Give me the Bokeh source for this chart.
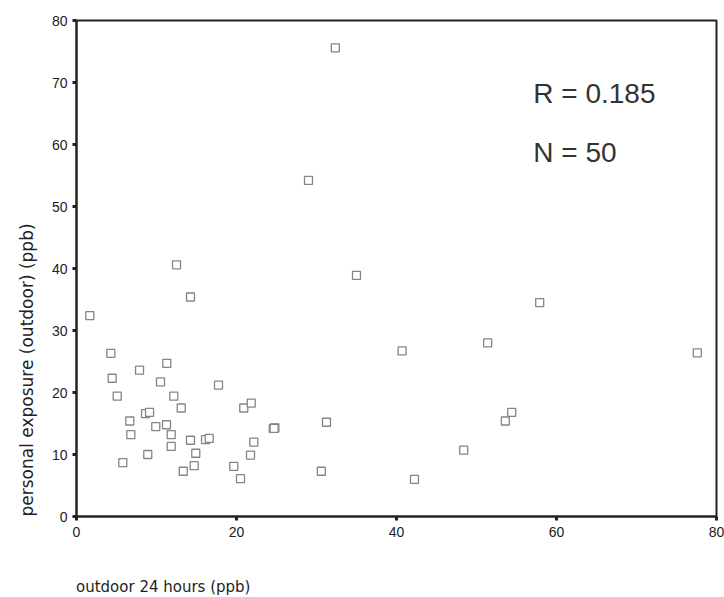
from bokeh.plotting import figure
from bokeh.models import Range1d, Label, FixedTicker, ColumnDataSource, Title, Div
from bokeh.layouts import column
from bokeh.embed import file_html
from bokeh.resources import INLINE

# ---- data ----
outdoor_24h = [1.66, 4.29, 4.46, 5.09, 5.79, 6.66, 6.79, 7.88, 8.63, 9.13,
               8.91, 9.91, 10.5, 11.29, 11.25, 11.84, 11.84, 12.16, 12.5, 13.09,
               13.34, 14.25, 14.25, 14.71, 14.91, 16.13, 16.59, 17.75, 19.66, 20.5,
               20.91, 21.84, 21.75, 22.16, 24.6, 24.8, 29.0, 30.6, 31.25, 32.35,
               35.0, 40.7, 42.25, 48.4, 51.4, 53.6, 54.4, 57.9, 77.6, 24.7]
personal_outdoor = [32.4, 26.3, 22.3, 19.4, 8.7, 15.4, 13.2, 23.6, 16.6, 16.8,
                    10.0, 14.5, 21.7, 24.7, 14.8, 13.2, 11.3, 19.4, 40.6, 17.5,
                    7.3, 35.4, 12.3, 8.2, 10.2, 12.4, 12.6, 21.2, 8.1, 6.1,
                    17.5, 18.3, 9.9, 12.0, 14.2, 14.3, 54.2, 7.3, 15.2, 75.6,
                    38.9, 26.7, 6.0, 10.7, 28.0, 15.4, 16.8, 34.5, 26.4, 14.2]
x_ticks = [0, 20, 40, 60, 80]
y_ticks = [0, 10, 20, 30, 40, 50, 60, 70, 80]
x_title = "outdoor 24 hours (ppb)"
y_title = "personal exposure (outdoor) (ppb)"
r_text = "R = 0.185"
n_text = "N = 50"

src = ColumnDataSource(dict(x=outdoor_24h, y=personal_outdoor))

p = figure(width=724, height=548, output_backend="svg", toolbar_location=None,
           x_range=Range1d(0, 80), y_range=Range1d(0, 80),
           min_border_left=76, min_border_right=8, min_border_top=20,
           min_border_bottom=32)
p.background_fill_color = "white"
p.border_fill_color = "white"
p.xgrid.visible = False
p.ygrid.visible = False
p.outline_line_color = "#222222"
p.outline_line_width = 2

p.scatter("x", "y", source=src, marker="square", size=8,
          fill_color="white", line_color="#858585", line_width=1.3)

for ax in (p.xaxis[0], p.yaxis[0]):
    ax.axis_line_color = "#222222"
    ax.axis_line_width = 2
    ax.major_tick_line_color = "#222222"
    ax.major_tick_line_width = 3
    ax.major_tick_out = 4
    ax.major_tick_in = 0
    ax.minor_tick_line_color = None
    ax.major_label_text_font = "Liberation Sans"
    ax.major_label_text_font_size = "14px"
    ax.major_label_text_color = "#222222"

p.xaxis[0].ticker = FixedTicker(ticks=x_ticks)
p.yaxis[0].ticker = FixedTicker(ticks=y_ticks)
p.xaxis[0].major_label_standoff = 6
p.yaxis[0].major_label_standoff = 5

has_standoff = "standoff" in Title(text="").properties()

yt = Title(text=y_title, align="left", text_font="DejaVu Sans",
           text_font_size="17px", text_font_style="normal", text_color="#222222")
if has_standoff:
    yt.standoff = 24
p.add_layout(yt, "left")

for txt, yy in ((r_text, 68.2), (n_text, 58.7)):
    p.add_layout(Label(x=57.1, y=yy, text=txt, text_font="Liberation Sans",
                       text_font_size="28px", text_color="#333333",
                       text_baseline="alphabetic", text_align="left"))

# x-axis title: sits well below the axis, left aligned with the frame
xdiv = Div(text=x_title, width=300, height=18, margin=(30, 0, 0, 76),
           styles={"font-family": "DejaVu Sans", "font-size": "15px",
                   "color": "#222222", "line-height": "18px"})

layout = column(p, xdiv, spacing=0)
open("out.html", "w").write(file_html(layout, INLINE))
